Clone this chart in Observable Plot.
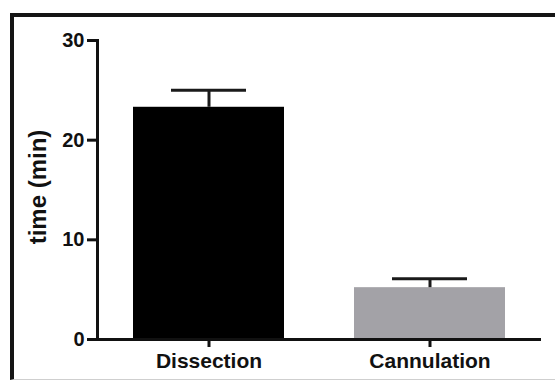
<!DOCTYPE html>
<html><head><meta charset="utf-8">
<script src="https://cdn.jsdelivr.net/npm/d3@7"></script>
<script src="https://cdn.jsdelivr.net/npm/@observablehq/plot@0.6"></script>
<style>
body{margin:0;background:#fff;}
#wrap{position:relative;width:555px;height:381px;overflow:hidden;background:#fff;}
#border{position:absolute;left:10px;top:13px;width:600px;height:362px;border-left:4px solid #151515;border-top:4px solid #151515;border-bottom:1px solid #cfcfcf;}
#chart{position:absolute;left:0;top:0;}
</style></head><body>
<div id="wrap"><div id="border"></div><div id="chart"></div></div>
<script>
const categories = ["Dissection", "Cannulation"];
const means = [23.3, 5.2];
const errors = [1.7, 0.9];
const yTicks = [0, 10, 20, 30];
const barColors = ["#000000", "#a3a2a7"];
const yLabel = ["time (min)"];

const data = categories.map((c, i) => ({category: c, mean: means[i], top: means[i] + errors[i], color: barColors[i]}));

const chart = Plot.plot({
  width: 555, height: 381,
  marginLeft: 97, marginRight: 14, marginTop: 40, marginBottom: 42,
  style: {background: "transparent", fontFamily: "'Liberation Sans', Arial, sans-serif", fontWeight: "bold", color: "#111"},
  x: {domain: categories, paddingInner: 0.315, paddingOuter: 0.158},
  y: {domain: [0, 30]},
  color: {type: "identity"},
  marks: [
    Plot.barY(data, {x: "category", y: "mean", fill: "color"}),
    Plot.ruleX(data, {x: "category", y1: "mean", y2: "top", stroke: "#1a1a1a", strokeWidth: 3}),
    Plot.tickY(data, {x: "category", y: "top", stroke: "#1a1a1a", strokeWidth: 3, insetLeft: 38, insetRight: 38}),
    Plot.axisY({ticks: yTicks, tickSize: 10, tickPadding: 3, fontSize: 20, strokeWidth: 3, label: null}),
    Plot.text(yLabel, {frameAnchor: "left", textAnchor: "middle", lineAnchor: "middle", rotate: -90, dx: -59, dy: -3, fontSize: 24, fontWeight: "bold", fill: "#111"}),
    Plot.axisX({tickSize: 8, tickPadding: 6, fontSize: 21, strokeWidth: 3, label: null}),
    Plot.ruleY([0], {strokeWidth: 3, stroke: "#111"}),
    Plot.frame({anchor: "left", strokeWidth: 3, stroke: "#111"})
  ]
});
document.getElementById("chart").appendChild(chart);
</script>
</body></html>
